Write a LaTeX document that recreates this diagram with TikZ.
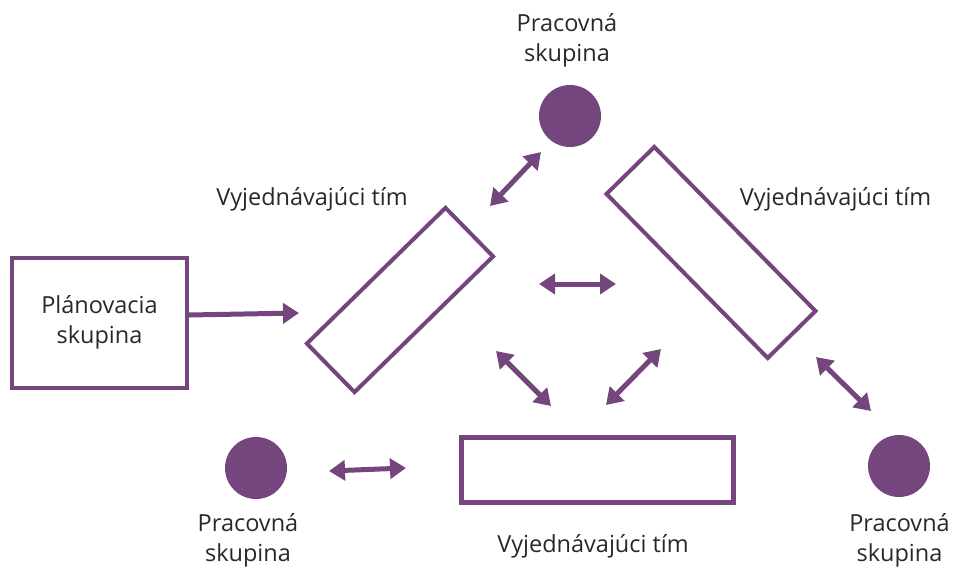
\documentclass[tikz,border=0pt]{standalone}
\usepackage{fontspec}
\setmainfont{Open Sans}
\usetikzlibrary{arrows.meta}
\definecolor{plum}{RGB}{117,70,125}
\definecolor{txt}{RGB}{40,40,40}
\tikzset{
  x=1pt, y=-1pt,
  lbl/.style={text=txt, font=\fontsize{23.5}{30}\selectfont, align=center, inner sep=0pt},
  grp/.style={circle, fill=plum, minimum size=62pt, inner sep=0pt},
  team/.style={draw=plum, line width=4pt, minimum width=194pt, minimum height=68pt, inner sep=0pt},
  plan/.style={draw=plum, line width=4pt, minimum width=175pt, minimum height=130pt, inner sep=0pt},
  dbl/.style={draw=plum, line width=5pt, {Triangle[length=16pt,width=20pt]}-{Triangle[length=16pt,width=20pt]}},
  sgl/.style={draw=plum, line width=5pt, -{Triangle[length=16pt,width=20pt]}}
}
\begin{document}
\begin{tikzpicture}
\useasboundingbox (0,0) rectangle (953,567);
% work groups
\node[grp] (g1) at (570,116) {};
\node[grp] (g2) at (256,468) {};
\node[grp] (g3) at (899,466) {};
\node[lbl] (l1) at (567,40) {Pracovná\\skupina};
\node[lbl] (l2) at (248,540) {Pracovná\\skupina};
\node[lbl] (l3) at (899.5,540) {Pracovná\\skupina};
% negotiation teams
\node[team, rotate=44.4] (t1) at (400,300) {};
\node[team, minimum width=230pt, minimum height=67pt, rotate=-45.5] (t2) at (711,252.5) {};
\node[team, line width=5pt, minimum width=272pt, minimum height=65pt] (t3) at (597,470) {};
\node[lbl] (tl1) at (312,199) {Vyjednávajúci tím};
\node[lbl] (tl2) at (835.5,199) {Vyjednávajúci tím};
\node[lbl] (tl3) at (593,546) {Vyjednávajúci tím};
% planning group
\node[plan] (p) at (99.5,323) {};
\node[lbl] (pl) at (99.5,322) {Plánovacia\\skupina};
% arrow end points
\coordinate (a1s) at (490,206); \coordinate (a1e) at (541,152);
\coordinate (a2s) at (539,284); \coordinate (a2e) at (616,284);
\coordinate (a3e) at (299,313);
\coordinate (a4s) at (496,351); \coordinate (a4e) at (551,406);
\coordinate (a5s) at (606,405); \coordinate (a5e) at (661,349);
\coordinate (a6s) at (329,471); \coordinate (a6e) at (406,468);
\coordinate (a7s) at (816,357); \coordinate (a7e) at (871,411);
\draw[dbl] (a1s) -- (a1e);
\draw[dbl] (a2s) -- (a2e);
\draw[sgl] (p.east |- 0,315) -- (a3e);
\draw[dbl] (a4s) -- (a4e);
\draw[dbl] (a5s) -- (a5e);
\draw[dbl] (a6s) -- (a6e);
\draw[dbl] (a7s) -- (a7e);
\end{tikzpicture}
\end{document}
